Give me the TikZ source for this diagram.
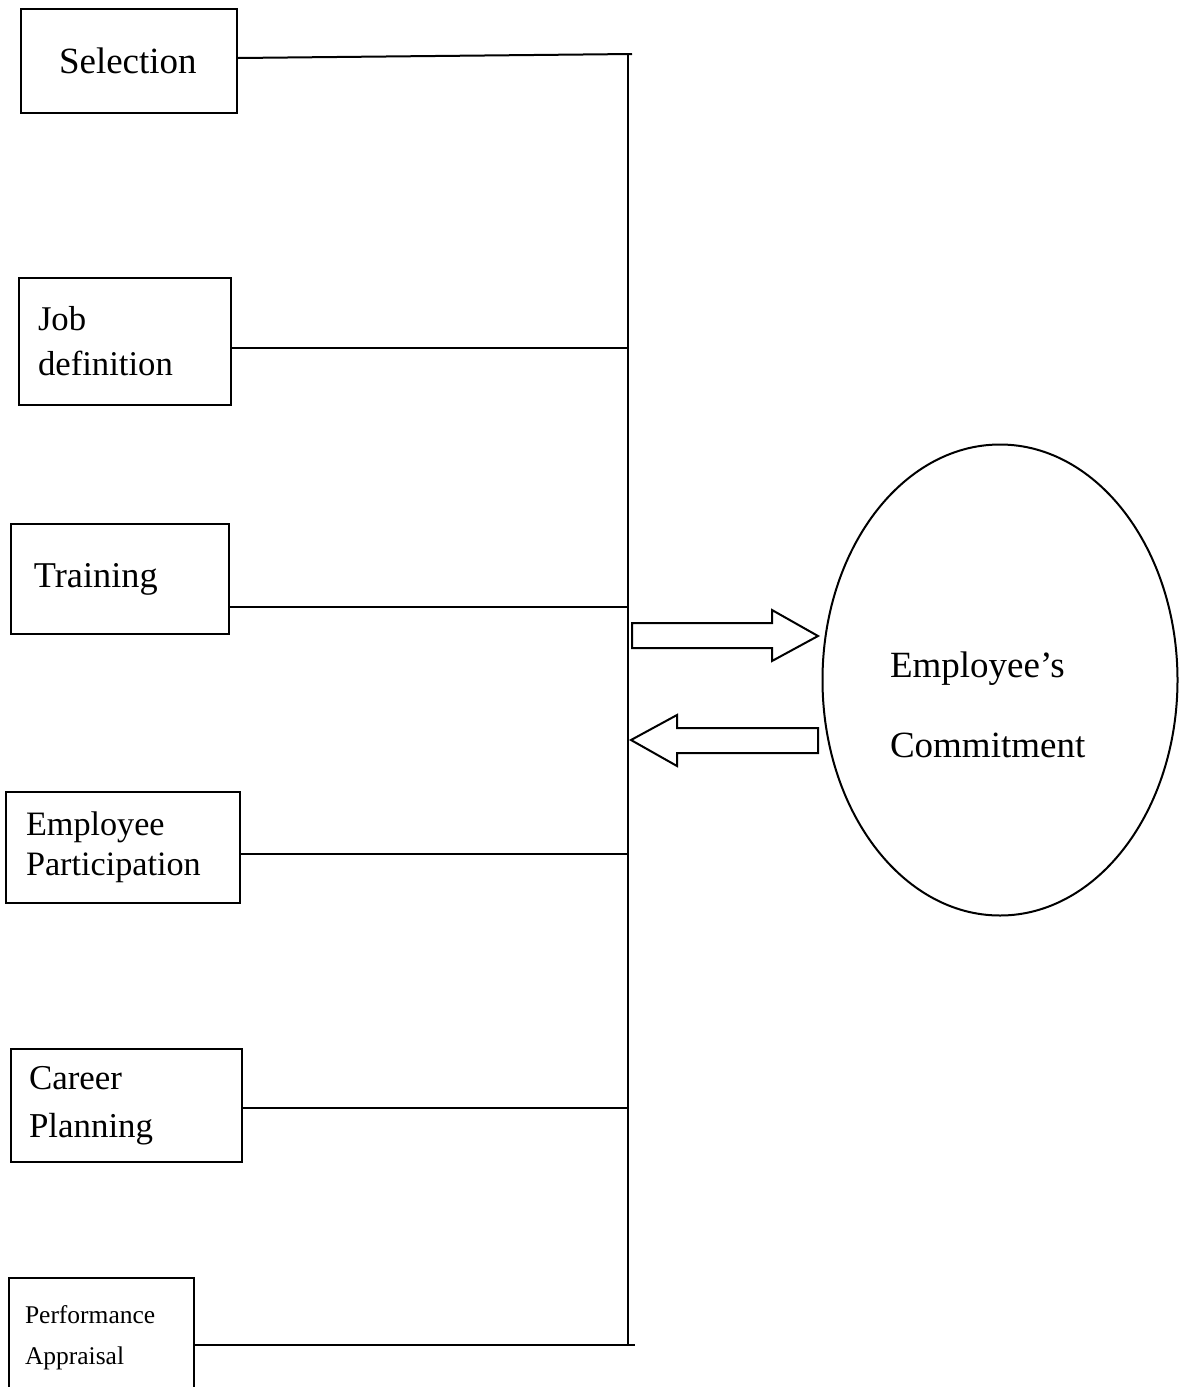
\documentclass[tikz,border=0pt]{standalone}
\usepackage{fontspec}
\setmainfont{Liberation Serif}
\usetikzlibrary{shapes.geometric}
\tikzset{
	factor/.style={draw,rectangle,anchor=north west,inner ysep=0pt,align=left},
	link/.style={line width=2pt},
}
\begin{document}
\begin{tikzpicture}[x=1pt,y=-1pt,line width=2pt]
	\clip (0,0) rectangle (1185,1387);
	% factors on the left
	\node[factor,minimum width=216pt,minimum height=104pt,inner xsep=38pt,text width=140pt,
		font=\fontsize{37}{44}\selectfont] (sel) at (20,8) {Selection};
	\node[factor,minimum width=212pt,minimum height=127pt,inner xsep=19pt,text width=174pt,
		font=\fontsize{34.7}{45}\selectfont] (job) at (18,277) {Job\\definition};
	\node[factor,minimum width=218pt,minimum height=110pt,inner xsep=23pt,text width=172pt,
		font=\fontsize{36.3}{44}\selectfont] (trn) at (10,523) {Training};
	\node[factor,minimum width=234pt,minimum height=111pt,inner xsep=20pt,text width=194pt,
		font=\fontsize{34.2}{40}\selectfont] (par) at (5,791) {Employee\\Participation};
	\node[factor,minimum width=231pt,minimum height=113pt,inner xsep=18pt,text width=195pt,
		font=\fontsize{34.9}{48}\selectfont] (car) at (10,1048) {Career\\Planning};
	\node[factor,minimum width=185pt,minimum height=120pt,inner xsep=16pt,text width=153pt,
		font=\fontsize{25.5}{41}\selectfont] (per) at (8,1277) {Performance\\Appraisal};
	% commitment
	\node[draw,ellipse,minimum width=355pt,minimum height=471pt,inner sep=0pt] (emp) at (1000,680) {};
	\node[align=left,text width=200pt,font=\fontsize{37}{80}\selectfont]
		(empt) at ([xshift=-10pt,yshift=-25pt]emp.center) {Employee’s\\Commitment};
	% bus
	\coordinate (bustop) at (628,54);
	\coordinate (busbot) at (628,1345);
	\draw[link] (bustop) -- (busbot);
	\draw[link] ([yshift=3pt]sel.east) -- ([xshift=4pt]bustop);
	\draw[link] ([yshift=-6pt]job.east) -- ([yshift=-6pt]job.east -| bustop);
	\draw[link] ([yshift=-28pt]trn.east) -- ([yshift=-28pt]trn.east -| bustop);
	\draw[link] ([yshift=-6pt]par.east) -- ([yshift=-6pt]par.east -| bustop);
	\draw[link] ([yshift=-2pt]car.east) -- ([yshift=-2pt]car.east -| bustop);
	\draw[link] (per.east |- busbot) -- ([xshift=7pt]busbot);
	% block arrows
	\draw (632,623) -- (772,623) -- (772,610) -- (818,636) -- (772,661) -- (772,648) -- (632,648) -- cycle;
	\draw (818,728) -- (677,728) -- (677,715) -- (631,740) -- (677,766) -- (677,753) -- (818,753) -- cycle;
\end{tikzpicture}
\end{document}
